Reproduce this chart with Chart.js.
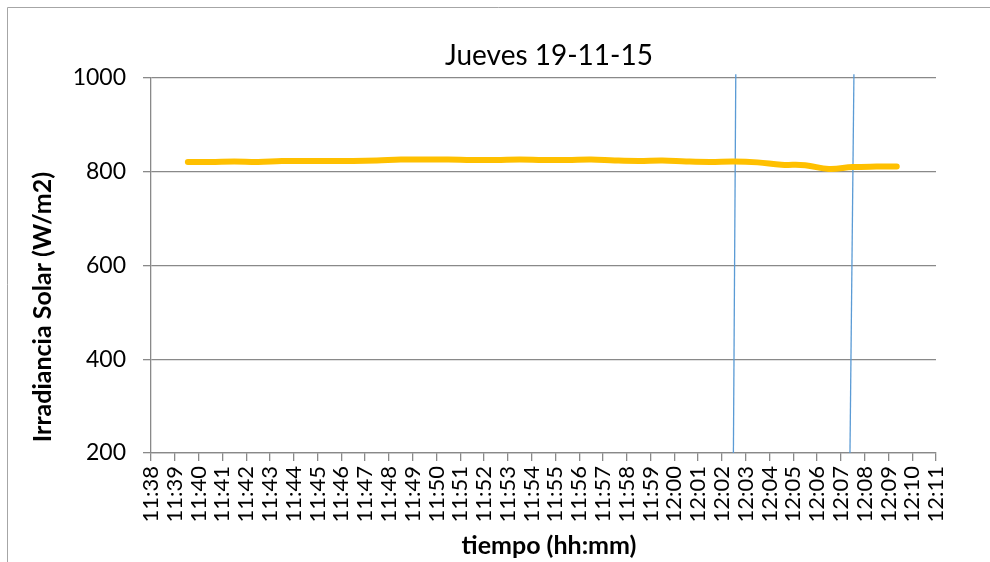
<!DOCTYPE html>
<html>
<head>
<meta charset="utf-8">
<script src="https://cdn.jsdelivr.net/npm/chart.js@4.4.0/dist/chart.umd.min.js"></script>
<style>
  html, body { margin: 0; padding: 0; background: #fff; }
  #wrap { width: 990px; height: 562px; }
</style>
</head>
<body>
<div id="wrap"><canvas id="mycanvas" width="990" height="562"></canvas></div>
<script>
// datos
var titulo = 'Jueves 19-11-15';
var tituloY = 'Irradiancia Solar (W/m2)';
var tituloX = 'tiempo (hh:mm)';
var horaInicio = '11:38';
var horaFin = '12:11';

var tiempo = ['11:39:33','11:40:30','11:41:30','11:42:30','11:43:30','11:44:30','11:45:30','11:46:30',
	'11:47:30','11:48:30','11:49:30','11:50:30','11:51:30','11:52:30','11:53:30','11:54:30',
	'11:55:30','11:56:30','11:57:30','11:58:30','11:59:30','12:00:30','12:01:30','12:02:30',
	'12:03:30','12:04:30','12:05:30','12:06:30','12:07:30','12:08:30','12:09:21'];
var irradiancia = [821,821,822,821,823,823,823,823,824,826,
	826,826,825,825,826,825,825,826,824,823,
	824,822,821,822,820,815,814,806,810,811,
	811];

// las dos lineas verticales (marcas) : hora arriba / hora abajo
var marca1 = { arriba: '12:02:35', abajo: '12:02:29', yArriba: 1008, yAbajo: 200 };
var marca2 = { arriba: '12:07:33', abajo: '12:07:23', yArriba: 1008, yAbajo: 200 };

var yMin = 200, yMax = 1000, yPaso = 200;

function aMinutos(h){
	var p = h.split(':');
	var m = parseInt(p[0]) * 60 + parseInt(p[1]);
	if (p.length > 2) m += parseInt(p[2]) / 60;
	return m;
}
var base = aMinutos(horaInicio);

var puntos = [];
for (var i in tiempo){
	puntos.push({ x: aMinutos(tiempo[i]) - base, y: irradiancia[i] });
}

function lineaMarca(mk){
	return [
		{ x: aMinutos(mk.arriba) - base, y: mk.yArriba },
		{ x: aMinutos(mk.abajo) - base, y: mk.yAbajo }
	];
}

function fmtHora(v){
	var t = base + v;
	var h = Math.floor(t / 60), m = Math.round(t % 60);
	return h + ':' + (m < 10 ? '0' + m : m);
}

var fuente = 'Lato';
var gris = '#898989';

var textos = {
	id: 'textos',
	afterDraw: function(chart){
		var c = chart.ctx;
		c.save();
		// marco
		c.strokeStyle = '#a6a6a6';
		c.lineWidth = 1;
		c.beginPath();
		c.moveTo(7.5, 562);
		c.lineTo(7.5, 7.5);
		c.lineTo(990, 7.5);
		c.stroke();

		c.fillStyle = '#000';
		c.textAlign = 'center';
		c.textBaseline = 'alphabetic';
		c.font = '28px ' + fuente;
		c.fillText(titulo, 549, 65);

		c.font = 'bold 25px ' + fuente;
		c.fillText(tituloX, 549, 554);

		c.translate(51, 307);
		c.rotate(-Math.PI / 2);
		c.fillText(tituloY, 0, 0);
		c.restore();
	}
};

var chartdata = {
	datasets : [
		{
			label : 'Irradiancia',
			data : puntos,
			borderColor : '#FFC000',
			backgroundColor : '#FFC000',
			borderWidth : 6,
			borderCapStyle : 'round',
			borderJoinStyle : 'round',
			pointRadius : 0,
			tension : 0.4,
			fill : false
		},
		{
			label : 'marca1',
			data : lineaMarca(marca1),
			borderColor : '#5B9BD5',
			borderWidth : 1.3,
			pointRadius : 0,
			clip : false
		},
		{
			label : 'marca2',
			data : lineaMarca(marca2),
			borderColor : '#5B9BD5',
			borderWidth : 1.3,
			pointRadius : 0,
			clip : false
		}
	]
};

var ctx = document.getElementById('mycanvas');
var lineGraph = new Chart(ctx, {
	type : 'line',
	data : chartdata,
	plugins : [textos],
	options : {
		responsive : false,
		animation : false,
		layout : { padding : { left : 0, top : 78, right : 54, bottom : 0 } },
		plugins : {
			legend : { display : false },
			tooltip : { enabled : false }
		},
		scales : {
			x : {
				type : 'linear',
				min : 0,
				max : aMinutos(horaFin) - base,
				afterFit : function(s){ s.height = 109; },
				border : { color : gris, width : 1.3 },
				grid : { drawOnChartArea : false, drawTicks : true, tickLength : 8, color : gris, lineWidth : 1.3 },
				ticks : {
					stepSize : 1,
					autoSkip : false,
					maxRotation : 90,
					minRotation : 90,
					padding : 5,
					color : '#000',
					font : { family : fuente, size : 22 },
					callback : function(v){ return fmtHora(v); }
				}
			},
			y : {
				min : yMin,
				max : yMax,
				afterFit : function(s){ s.width = 151; },
				border : { color : gris, width : 1.3 },
				grid : { color : gris, lineWidth : 1.3, tickLength : 8 },
				ticks : {
					stepSize : yPaso,
					padding : 17,
					color : '#000',
					font : { family : fuente, size : 23 },
					callback : function(v){ return String(v); }
				}
			}
		}
	}
});
</script>
</body>
</html>
